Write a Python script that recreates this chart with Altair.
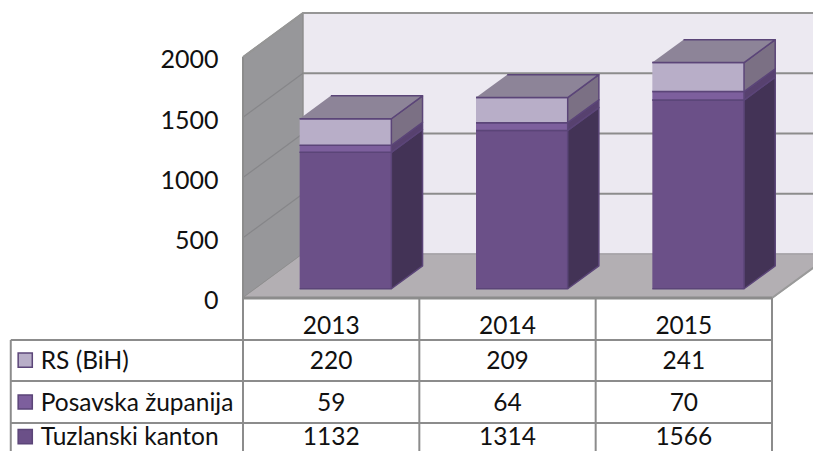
import altair as alt
import pandas as pd

years = ["2013", "2014", "2015"]
series = ["Tuzlanski kanton", "Posavska županija", "RS (BiH)"]
tuzla = [1132, 1314, 1566]
posavska = [59, 64, 70]
rs = [220, 209, 241]
values = [tuzla, posavska, rs]
table_rows = [rs, posavska, tuzla]
table_names = ["RS (BiH)", "Posavska županija", "Tuzlanski kanton"]

FONT = "Lato"
GRID = "#8c8c8c"
EDGE = "#5b4578"
front = ["#6b5088", "#7d5f9d", "#b8aec8"]
side = ["#433356", "#57416f", "#7b7084"]
roof = "#8d8498"
swatch = ["#b8aec8", "#7d5f9d", "#6b5088"]

# oblique projection, in data units
DX, DY = 0.34, 365
BAR_L, BAR_R = 0.25, 0.77
D0, D1 = 0.21, 0.73
XMIN, XMAX = -1.3327, 3.2325
YMIN, YMAX = -1269.7, 2406.6
WALL_TOP = 2000
ROW_LINES = [-348.5, -689, -1037]
ROW_TEXT = [-240, -532, -880, -1158]
KEY_ROWS = [-515, -863, -1150]


def proj(x, v, d):
    return x + d * DX, v + d * DY


pid = 0


def add_poly(store, pts, fill, stroke):
    global pid
    for k, (x, v) in enumerate(pts):
        store.append(dict(p=pid, i=k, x=x, v=v, fill=fill, stroke=stroke))
    pid += 1


def add_line(store, pts, color, w):
    global pid
    for k, (x, v) in enumerate(pts):
        store.append(dict(p=pid, i=k, x=x, v=v, color=color, w=w))
    pid += 1


walls = []
add_poly(walls, [proj(0, 0, 1), proj(3.4, 0, 1), proj(3.4, WALL_TOP, 1), proj(0, WALL_TOP, 1)], "#ece9f1", "#b9b7bd")
add_poly(walls, [proj(0, 0, 0), proj(0, 0, 1), proj(0, WALL_TOP, 1), proj(0, WALL_TOP, 0)], "#97979a", "#8c8c8c")
add_poly(walls, [proj(0, 0, 0), proj(3, 0, 0), proj(3, 0, 1), proj(3.4, 0, 1), proj(0, 0, 1)], "#b3afb3", "#a5a2a6")

grid = []
for t in range(0, 2001, 500):
    if t > 0:
        add_line(grid, [proj(0, t, 1), proj(3.4, t, 1)], GRID, 2)
        if t < 2000:
            add_line(grid, [proj(0, t, 0), proj(0, t, 1)], "#868689", 1.2)
add_line(grid, [proj(0, 0, 0), proj(0, WALL_TOP, 0)], GRID, 2)
add_line(grid, [proj(0, WALL_TOP, 0), proj(0, WALL_TOP, 1), proj(3.4, WALL_TOP, 1)], "#969696", 2)
add_line(grid, [proj(3, 0, 0), proj(3, 0, 1)], "#9a9a9a", 2)

bars = []
for c in range(3):
    l, r = c + BAR_L, c + BAR_R
    base = 0
    for s in range(3):
        top = base + values[s][c]
        add_poly(bars, [proj(r, base, D0), proj(r, base, D1), proj(r, top, D1), proj(r, top, D0)], side[s], EDGE)
        add_poly(bars, [proj(l, base, D0), proj(r, base, D0), proj(r, top, D0), proj(l, top, D0)], front[s], EDGE)
        base = top
    add_poly(bars, [proj(l, base, D0), proj(r, base, D0), proj(r, base, D1), proj(l, base, D1)], roof, EDGE)

rules = []
add_line(rules, [(0, 0), (3, 0)], GRID, 3)
for c in [0, 1, 2, 3]:
    add_line(rules, [(c, 0), (c, YMIN)], GRID, 2)
TABLE_LEFT = -1.317
for yv in ROW_LINES:
    add_line(rules, [(TABLE_LEFT, yv), (3, yv)], GRID, 2)
add_line(rules, [(TABLE_LEFT, ROW_LINES[0]), (TABLE_LEFT, YMIN)], GRID, 2)

cells = []
for c, year in enumerate(years):
    cells.append(dict(x=c + 0.5, v=ROW_TEXT[0], t=year))
    for r, row in enumerate(table_rows):
        cells.append(dict(x=c + 0.5, v=ROW_TEXT[r + 1], t=str(row[c])))

heads = [dict(x=-1.147, v=ROW_TEXT[r + 1], t=n) for r, n in enumerate(table_names)]
keys = [dict(x=-1.235, v=KEY_ROWS[r], c=swatch[r]) for r in range(3)]

xs = alt.Scale(domain=[XMIN, XMAX], nice=False, zero=False)
ys = alt.Scale(domain=[YMIN, YMAX], nice=False, zero=False)
X = alt.X("x:Q", scale=xs, axis=None)
Y = alt.Y("v:Q", scale=ys, title=None,
          axis=alt.Axis(values=[0, 500, 1000, 1500, 2000], offset=-210, ticks=False, domain=False,
                        grid=False, labelFontSize=25, labelFont=FONT, labelColor="#111111",
                        labelPadding=0, format="d", labelOverlap=False, labelFlush=False, labelOffset=3))


def poly_layer(rows):
    return alt.Chart(pd.DataFrame(rows)).mark_line(strokeWidth=1.5, clip=True, strokeJoin="round").encode(
        x=X, y=Y, detail="p:N", order="i:Q",
        fill=alt.Fill("fill:N", scale=None),
        stroke=alt.Stroke("stroke:N", scale=None),
    )


def line_layer(rows):
    return alt.Chart(pd.DataFrame(rows)).mark_line(clip=True).encode(
        x=X, y=Y, detail="p:N", order="i:Q",
        stroke=alt.Stroke("color:N", scale=None),
        strokeWidth=alt.StrokeWidth("w:Q", scale=None),
    )


text_cells = alt.Chart(pd.DataFrame(cells)).mark_text(font=FONT, fontSize=24.5, color="#111111", baseline="middle").encode(
    x=X, y=Y, text="t:N")
text_heads = alt.Chart(pd.DataFrame(heads)).mark_text(font=FONT, fontSize=24.5, color="#111111", baseline="middle", align="left").encode(
    x=X, y=Y, text="t:N")
key_marks = alt.Chart(pd.DataFrame(keys)).mark_point(shape="square", size=200, filled=True, stroke=EDGE, strokeWidth=1.5, opacity=1).encode(
    x=X, y=Y, fill=alt.Fill("c:N", scale=None))

chart = alt.layer(
    poly_layer(walls), line_layer(grid), poly_layer(bars), line_layer(rules),
    text_cells, text_heads, key_marks,
).properties(
    width=805, height=443, padding=0, autosize=alt.AutoSizeParams(type="none"),
).configure_view(stroke=None)

chart.save("out.html", embed_options={"renderer": "svg", "actions": False})
